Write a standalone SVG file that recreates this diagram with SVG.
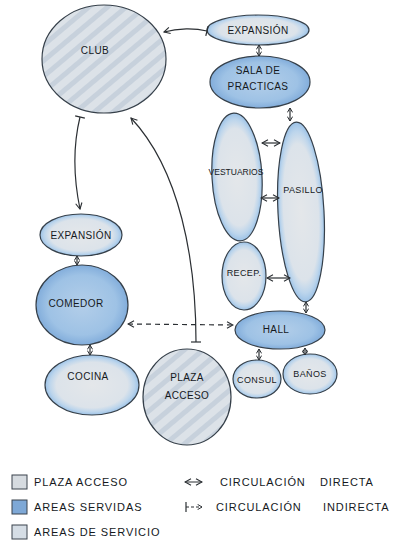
<svg xmlns="http://www.w3.org/2000/svg" width="396" height="547" viewBox="0 0 396 547">
  <defs>
    <style>
      .lbl { font-family: "Liberation Sans", "DejaVu Sans", sans-serif; font-size: 10px; fill: #15191d; text-anchor: middle; letter-spacing: 0.4px; }
      .leg { font-family: "Liberation Sans", "DejaVu Sans", sans-serif; font-size: 11px; fill: #15191d; letter-spacing: 0.9px; }
      .edge { fill: none; stroke: #2b2f33; stroke-width: 1.2; }
      .both { marker-start: url(#head); marker-end: url(#head); }
      .dash { stroke-dasharray: 5 4; }
      .out { fill: none; stroke: #36404a; stroke-width: 1.2; }
      .light { fill: url(#gLight); }
      .dark { fill: url(#gDark); }
      .hatch { fill: url(#hatch); }
    </style>
    <radialGradient id="gLight" cx="0.5" cy="0.5" r="0.5">
      <stop offset="0" stop-color="#e4e7ea"/>
      <stop offset="0.76" stop-color="#dce3ea"/>
      <stop offset="0.9" stop-color="#bcd5ec"/>
      <stop offset="1" stop-color="#9cc2e7"/>
    </radialGradient>
    <radialGradient id="gDark" cx="0.5" cy="0.5" r="0.5">
      <stop offset="0" stop-color="#b3cee9"/>
      <stop offset="0.75" stop-color="#9ec2e5"/>
      <stop offset="1" stop-color="#82addb"/>
    </radialGradient>
    <pattern id="hatch" width="12" height="12" patternUnits="userSpaceOnUse" patternTransform="rotate(-40)">
      <rect width="12" height="12" fill="#dce2e8"/>
      <rect width="12" height="5" fill="#c7d1dc"/>
    </pattern>
    <marker id="head" viewBox="0 0 8 8" refX="7" refY="4" markerWidth="8" markerHeight="8" markerUnits="userSpaceOnUse" orient="auto-start-reverse">
      <path d="M1,0.8 L7,4 L1,7.2" fill="none" stroke="#2b2f33" stroke-width="1.1"/>
    </marker>
    <marker id="bar" viewBox="0 0 8 10" refX="4" refY="5" markerWidth="8" markerHeight="10" markerUnits="userSpaceOnUse" orient="auto">
      <path d="M4,0 L4,10" fill="none" stroke="#2b2f33" stroke-width="1.2"/>
    </marker>
    <marker id="sm" viewBox="0 0 6 6" refX="5" refY="3" markerWidth="6" markerHeight="6" markerUnits="userSpaceOnUse" orient="auto-start-reverse">
      <path d="M0.6,0.4 L5,3 L0.6,5.6" fill="none" stroke="#2b2f33" stroke-width="1"/>
    </marker>
  </defs>

  <rect width="396" height="547" fill="#ffffff"/>

  <!-- nodes -->
  <g id="club">
    <ellipse cx="104" cy="59" rx="62" ry="54" class="hatch"/>
    <ellipse cx="104" cy="59" rx="62" ry="54" class="out"/>
    <text x="95" y="54" class="lbl">CLUB</text>
  </g>

  <g id="expansion-top">
    <ellipse cx="258" cy="30" rx="51" ry="15" class="light"/>
    <ellipse cx="258" cy="30" rx="51" ry="15" class="out"/>
    <text x="258" y="34" class="lbl">EXPANSIÓN</text>
  </g>

  <g id="sala-practicas">
    <ellipse cx="260" cy="82" rx="50" ry="26" class="dark"/>
    <ellipse cx="260" cy="82" rx="50" ry="26" class="out"/>
    <text x="258" y="74" class="lbl">SALA DE</text>
    <text x="258" y="90" class="lbl">PRACTICAS</text>
  </g>

  <g id="vestuarios">
    <ellipse cx="237" cy="177" rx="25" ry="64" class="light" transform="rotate(-3 237 177)"/>
    <ellipse cx="237" cy="177" rx="25" ry="64" class="out" transform="rotate(-3 237 177)"/>
    <text x="236" y="175" class="lbl" style="font-size:8.5px;letter-spacing:0">VESTUARIOS</text>
  </g>

  <g id="pasillo">
    <ellipse cx="301" cy="212" rx="23" ry="90" class="light" transform="rotate(-3 301 212)"/>
    <ellipse cx="301" cy="212" rx="23" ry="90" class="out" transform="rotate(-3 301 212)"/>
    <text x="303" y="193" class="lbl" style="font-size:9px">PASILLO</text>
  </g>

  <g id="recepcion">
    <ellipse cx="244" cy="276" rx="22" ry="34" class="light"/>
    <ellipse cx="244" cy="276" rx="22" ry="34" class="out"/>
    <text x="244" y="276" class="lbl" style="font-size:9px">RECEP.</text>
  </g>

  <g id="hall">
    <ellipse cx="280" cy="330" rx="45" ry="19" class="dark"/>
    <ellipse cx="280" cy="330" rx="45" ry="19" class="out"/>
    <text x="276" y="333" class="lbl">HALL</text>
  </g>

  <g id="consul">
    <ellipse cx="257" cy="379" rx="24" ry="19" class="light"/>
    <ellipse cx="257" cy="379" rx="24" ry="19" class="out"/>
    <text x="257" y="383" class="lbl" style="font-size:9px">CONSUL</text>
  </g>

  <g id="banos">
    <ellipse cx="310" cy="374" rx="27" ry="20" class="light"/>
    <ellipse cx="310" cy="374" rx="27" ry="20" class="out"/>
    <text x="310" y="377" class="lbl" style="font-size:9px">BAÑOS</text>
  </g>

  <g id="plaza-acceso">
    <ellipse cx="187" cy="397" rx="44" ry="48" class="hatch"/>
    <ellipse cx="187" cy="397" rx="44" ry="48" class="out"/>
    <text x="187" y="381" class="lbl">PLAZA</text>
    <text x="187" y="399" class="lbl">ACCESO</text>
  </g>

  <g id="expansion-left">
    <ellipse cx="81" cy="235" rx="41" ry="21" class="light"/>
    <ellipse cx="81" cy="235" rx="41" ry="21" class="out"/>
    <text x="81" y="239" class="lbl">EXPANSIÓN</text>
  </g>

  <g id="comedor">
    <ellipse cx="82" cy="305" rx="46" ry="40" class="dark"/>
    <ellipse cx="82" cy="305" rx="46" ry="40" class="out"/>
    <text x="76" y="307" class="lbl">COMEDOR</text>
  </g>

  <g id="cocina">
    <ellipse cx="92" cy="385" rx="47" ry="30" class="light"/>
    <ellipse cx="92" cy="385" rx="47" ry="30" class="out"/>
    <text x="88" y="380" class="lbl">COCINA</text>
  </g>

  <!-- connectors -->
  <g id="connectors">
    <path class="edge" d="M207,31 C195,28 178,28 164,32" marker-start="url(#bar)" marker-end="url(#head)"/>
    <path class="edge" d="M80,117 C72,150 74,180 80,209" marker-start="url(#bar)" marker-end="url(#head)"/>
    <path class="edge" d="M196,342 C196,260 180,170 131,118" marker-start="url(#bar)" marker-end="url(#head)"/>
    <path class="edge dash both" d="M128,324 L233,325"/>

    <path class="edge" d="M259,45 L259,56" marker-start="url(#sm)" marker-end="url(#sm)"/>
    <path class="edge" d="M290,108 L290,121" marker-start="url(#sm)" marker-end="url(#sm)"/>
    <path class="edge both" d="M262,143 L280,143"/>
    <path class="edge both" d="M261,198 L279,198"/>
    <path class="edge both" d="M267,278 L290,278"/>
    <path class="edge" d="M306,302 L306,313" marker-start="url(#sm)" marker-end="url(#sm)"/>
    <path class="edge" d="M259,349 L259,360" marker-start="url(#sm)" marker-end="url(#sm)"/>
    <path class="edge" d="M305,348 L305,355" marker-start="url(#sm)" marker-end="url(#sm)"/>
    <path class="edge" d="M77,256 L77,265" marker-start="url(#sm)" marker-end="url(#sm)"/>
    <path class="edge" d="M90,345 L90,355" marker-start="url(#sm)" marker-end="url(#sm)"/>
  </g>

  <!-- legend -->
  <g id="legend">
    <rect x="12" y="475" width="15" height="14" fill="#d6dbe0" stroke="#3a434c" stroke-width="1"/>
    <text x="34" y="486" class="leg">PLAZA ACCESO</text>
    <rect x="12" y="500" width="15" height="14" fill="#7ea8d6" stroke="#3a434c" stroke-width="1"/>
    <text x="34" y="511" class="leg">AREAS SERVIDAS</text>
    <rect x="12" y="525" width="15" height="14" fill="#d5dde5" stroke="#3a434c" stroke-width="1"/>
    <text x="34" y="536" class="leg">AREAS DE SERVICIO</text>

    <path class="edge both" d="M185,482 L202,482" style="stroke-width:1"/>
    <text x="220" y="486" class="leg">CIRCULACIÓN</text>
    <text x="320" y="486" class="leg">DIRECTA</text>
    <path class="edge dash" d="M186,507 L202,507" style="stroke-width:1;stroke-dasharray:3 2" marker-start="url(#bar)" marker-end="url(#sm)"/>
    <text x="216" y="511" class="leg">CIRCULACIÓN</text>
    <text x="323" y="511" class="leg">INDIRECTA</text>
  </g>
</svg>
